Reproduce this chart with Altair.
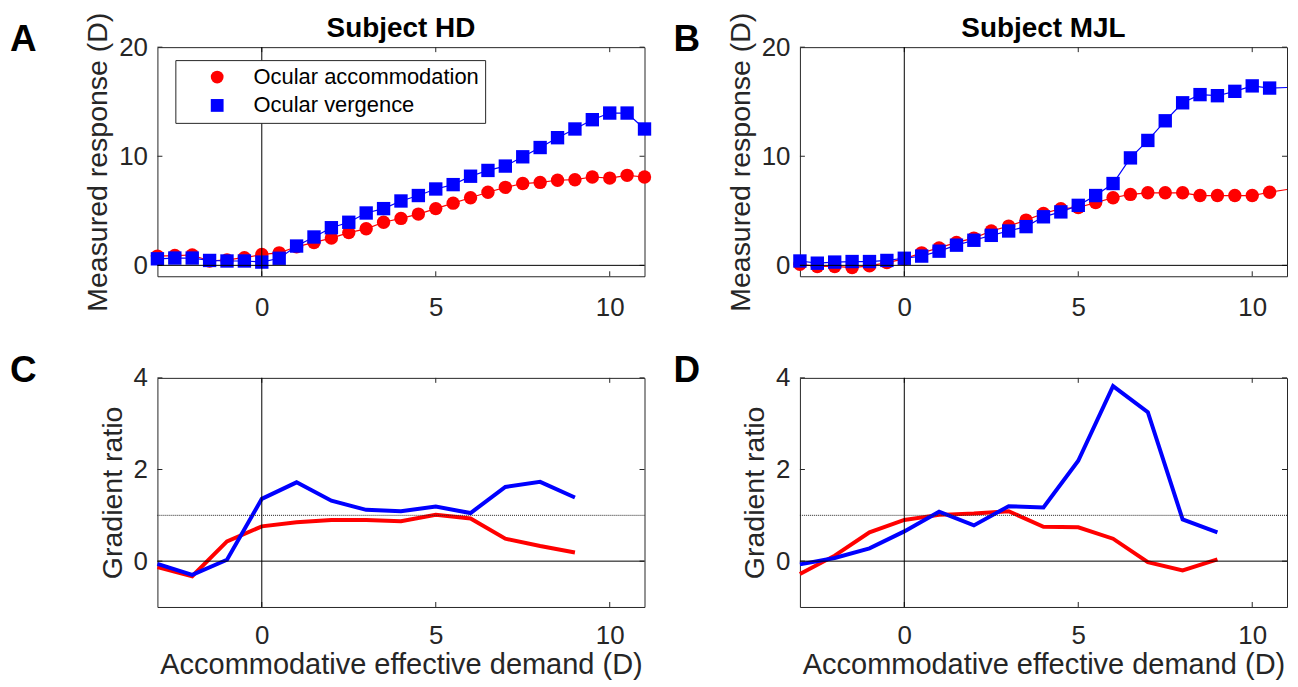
import altair as alt
import pandas as pd

# ---------------- data ----------------
x_resp = [-3, -2.5, -2, -1.5, -1, -0.5, 0, 0.5, 1, 1.5, 2, 2.5, 3, 3.5, 4, 4.5,
          5, 5.5, 6, 6.5, 7, 7.5, 8, 8.5, 9, 9.5, 10, 10.5, 11]
hd_acc = [0.85, 0.9, 0.95, 0.4, 0.5, 0.7, 1.0, 1.15, 1.7, 2.1, 2.5, 3.0, 3.35, 3.95, 4.3,
          4.7, 5.2, 5.7, 6.2, 6.7, 7.15, 7.5, 7.6, 7.8, 7.85, 8.1, 8.0, 8.25, 8.1]
hd_verg = [0.6, 0.67, 0.67, 0.45, 0.4, 0.4, 0.3, 0.65, 1.77, 2.6, 3.45, 3.95, 4.8, 5.2, 5.9,
           6.4, 7.0, 7.4, 8.17, 8.7, 9.1, 9.95, 10.8, 11.7, 12.5, 13.35, 13.96, 13.96, 12.5]
mjl_acc = [0.1, -0.1, -0.1, -0.2, -0.05, 0.25, 0.6, 1.15, 1.6, 2.1, 2.5, 3.15, 3.6, 4.15, 4.75,
           5.2, 5.3, 5.75, 6.2, 6.5, 6.65, 6.65, 6.65, 6.4, 6.4, 6.4, 6.4, 6.7, 6.95]
mjl_verg = [0.4, 0.2, 0.3, 0.35, 0.35, 0.45, 0.65, 0.85, 1.3, 1.85, 2.3, 2.75, 3.15, 3.55, 4.45,
            4.9, 5.5, 6.4, 7.5, 9.85, 11.45, 13.25, 14.9, 15.65, 15.55, 15.95, 16.45, 16.25, 16.3]

x_ratio = [-3, -2, -1, 0, 1, 2, 3, 4, 5, 6, 7, 8, 9]
hd_acc_ratio = [-0.13, -0.33, 0.43, 0.76, 0.85, 0.9, 0.9, 0.87, 1.01, 0.93, 0.49, 0.33, 0.19]
hd_verg_ratio = [-0.06, -0.3, 0.03, 1.36, 1.72, 1.32, 1.12, 1.09, 1.19, 1.05, 1.62, 1.73, 1.39]
mjl_acc_ratio = [-0.28, 0.12, 0.63, 0.9, 1.01, 1.04, 1.09, 0.75, 0.74, 0.49, -0.02, -0.2, 0.04]
mjl_verg_ratio = [-0.07, 0.07, 0.28, 0.65, 1.08, 0.78, 1.2, 1.17, 2.19, 3.82, 3.25, 0.91, 0.63]

series_names = ["Ocular accommodation", "Ocular vergence"]
x_ticks = [0, 5, 10]
y_ticks_resp = [0, 10, 20]
y_ticks_ratio = [0, 2, 4]

# ---------------- style ----------------
FONT = "Liberation Sans"
TXT = "#262626"
RED, BLUE = "#ff0000", "#0000ff"
W, H = 489, 230

xscale = alt.Scale(domain=[-3, 11], nice=False, zero=False)
yscale_resp = alt.Scale(domain=[-1, 20], nice=False, zero=False)
yscale_ratio = alt.Scale(domain=[-1, 4], nice=False, zero=False)
cscale = alt.Scale(domain=series_names, range=[RED, BLUE])
shscale = alt.Scale(domain=series_names, range=["circle", "square"])


def long_df(xs, a, b):
    return pd.DataFrame({
        "x": list(xs) + list(xs),
        "y": list(a) + list(b),
        "series": [series_names[0]] * len(a) + [series_names[1]] * len(b),
        "k": list(range(len(a))) + list(range(len(a), len(a) + len(b))),
    })


def x_axis(title, label_pad, title_pad):
    return alt.Axis(title=title or "", values=x_ticks, grid=False, domain=False, ticks=False,
                    labelPadding=label_pad, labelFontSize=26, labelFont=FONT, labelColor=TXT,
                    titleFontSize=29.1, titleFont=FONT, titleColor=TXT,
                    titleFontWeight="normal", titlePadding=title_pad)


def y_axis(values, title):
    return alt.Axis(values=values, title=title, grid=False, domain=False, ticks=False,
                    labelPadding=10, labelFontSize=26, labelFont=FONT, labelColor=TXT,
                    titleFontSize=28.6, titleFont=FONT, titleColor=TXT,
                    titleFontWeight="normal", titlePadding=6)


def series_lines(df, xax, yax, yscale, width):
    out = []
    for name, col in zip(series_names, [RED, BLUE]):
        out.append(alt.Chart(df).transform_filter(alt.datum.series == name).mark_line(
            strokeWidth=width, color=col).encode(
            x=alt.X("x:Q", scale=xscale, axis=xax),
            y=alt.Y("y:Q", scale=yscale, axis=yax),
            order="k:Q"))
    return out


def decorations(yscale, yticks, dotted, letter, letter_dx, xax, yax, title):
    layers = []
    xt = pd.DataFrame({"x": x_ticks})
    yt = pd.DataFrame({"y": yticks})
    # inward ticks
    for y0, y1 in [(0, 5), (H - 5, H)]:
        layers.append(alt.Chart(xt).mark_rule(color=TXT, strokeWidth=1).encode(
            x=alt.X("x:Q", scale=xscale, axis=xax), y=alt.value(y0), y2=alt.value(y1)))
    for x0, x1 in [(0, 5), (W - 5, W)]:
        layers.append(alt.Chart(yt).mark_rule(color=TXT, strokeWidth=1).encode(
            y=alt.Y("y:Q", scale=yscale, axis=yax), x=alt.value(x0), x2=alt.value(x1)))
    # zero reference lines
    layers.append(alt.Chart(pd.DataFrame({"x": [0]})).mark_rule(color="black", strokeWidth=1).encode(
        x=alt.X("x:Q", scale=xscale, axis=xax)))
    layers.append(alt.Chart(pd.DataFrame({"y": [0]})).mark_rule(color="black", strokeWidth=1).encode(
        y=alt.Y("y:Q", scale=yscale, axis=yax)))
    if dotted:
        layers.append(alt.Chart(pd.DataFrame({"y": [1]})).mark_rule(
            color="#222222", strokeWidth=1, strokeDash=[1, 1]).encode(
            y=alt.Y("y:Q", scale=yscale, axis=yax)))
    layers.append(alt.Chart(pd.DataFrame({"t": [letter]})).mark_text(
        align="left", baseline="alphabetic", fontSize=37, font=FONT, fontWeight="bold",
        color="black").encode(text="t:N", x=alt.value(letter_dx), y=alt.value(4)))
    if title:
        layers.append(alt.Chart(pd.DataFrame({"t": [title]})).mark_text(
            align="center", baseline="alphabetic", fontSize=28, font=FONT, fontWeight="bold",
            color="black").encode(text="t:N", x=alt.value(W / 2), y=alt.value(-10)))
    return layers


def response_panel(acc, verg, title, letter, letter_dx, with_legend, max_marker_x):
    df = long_df(x_resp, acc, verg)
    xax = x_axis(None, 18, 6)
    yax = y_axis(y_ticks_resp, "Measured response (D)")
    if with_legend:
        leg = alt.Legend(orient="none", legendX=18, legendY=13, title=None,
                         strokeColor=TXT, fillColor="white", padding=6,
                         labelFontSize=22, labelFont=FONT, labelColor="black",
                         symbolSize=165, symbolOffset=25, labelOffset=25.5, rowPadding=6.5,
                         symbolStrokeWidth=0, labelLimit=500)
    else:
        leg = None
    pts = alt.Chart(df).transform_filter(alt.datum.x <= max_marker_x).mark_point(
        filled=True, opacity=1, size=180).encode(
        x=alt.X("x:Q", scale=xscale, axis=xax),
        y=alt.Y("y:Q", scale=yscale_resp, axis=yax),
        color=alt.Color("series:N", scale=cscale, legend=leg),
        shape=alt.Shape("series:N", scale=shscale, legend=leg),
        order="k:Q",
    )
    layers = (series_lines(df, xax, yax, yscale_resp, 1.2) + [pts]
              + decorations(yscale_resp, y_ticks_resp, False, letter, letter_dx, xax, yax, title))
    return alt.layer(*layers).properties(width=W, height=H)


def ratio_panel(acc, verg, letter, letter_dx):
    df = long_df(x_ratio, acc, verg)
    xax = x_axis("Accommodative effective demand (D)", 16, 2)
    yax = y_axis(y_ticks_ratio, "Gradient ratio")
    layers = (series_lines(df, xax, yax, yscale_ratio, 4)
              + decorations(yscale_ratio, y_ticks_ratio, True, letter, letter_dx, xax, yax, None))
    return alt.layer(*layers).properties(width=W, height=H)


A = response_panel(hd_acc, hd_verg, "Subject HD", "A", -148, True, 11)
B = response_panel(mjl_acc, mjl_verg, "Subject MJL", "B", -127, False, 10.5)
C = ratio_panel(hd_acc_ratio, hd_verg_ratio, "C", -148)
D = ratio_panel(mjl_acc_ratio, mjl_verg_ratio, "D", -127)

chart = alt.concat(A, B, C, D, columns=2, spacing={"row": 30, "column": 20}).resolve_scale(
    color="independent", shape="independent"
).properties(
    padding={"left": 1, "top": 2, "right": 0, "bottom": -2}
).configure(font=FONT).configure_view(stroke=TXT, strokeWidth=1)

chart.save("out.html", embed_options={"renderer": "svg", "actions": False})
